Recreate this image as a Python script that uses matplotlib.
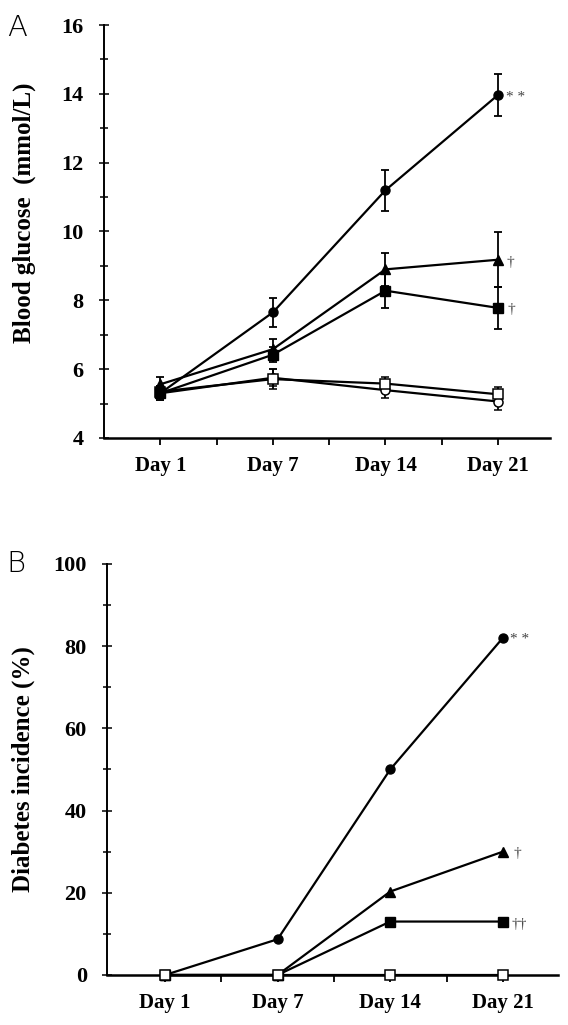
import matplotlib
matplotlib.use("Agg")
import matplotlib.pyplot as plt
from matplotlib.ticker import MultipleLocator, FixedLocator

plt.rcParams['font.family'] = ['Liberation Serif', 'DejaVu Serif']

days = [1, 2, 3, 4]
day_labels = ["Day 1", "Day 7", "Day 14", "Day 21"]

# Panel A: blood glucose (mmol/L), mean and error
glc_circle = [5.3, 7.65, 11.2, 13.97]
glc_circle_err = [0.2, 0.42, 0.6, 0.6]
glc_triangle = [5.56, 6.58, 8.9, 9.18]
glc_triangle_err = [0.2, 0.3, 0.48, 0.8]
glc_square = [5.3, 6.42, 8.28, 7.78]
glc_square_err = [0.15, 0.22, 0.5, 0.6]
glc_open_square = [5.35, 5.71, 5.58, 5.27]
glc_open_square_err = [0.15, 0.28, 0.2, 0.2]
glc_open_circle = [5.3, 5.75, 5.39, 5.06]
glc_open_circle_err = [0.2, 0.25, 0.22, 0.25]

# Panel B: diabetes incidence (%)
inc_circle = [0, 8.7, 50, 82]
inc_triangle = [0, 0, 20.3, 30]
inc_square = [0, 0, 13, 13]
inc_open_square = [0, 0, 0, 0]

fig = plt.figure(figsize=(5.68, 10.25), dpi=100)
axA = fig.add_axes([0.1831, 0.5727, 0.785, 0.4029])
axB = fig.add_axes([0.1884, 0.0488, 0.794, 0.4010])

lw = 1.6
ms = 6.5
common = dict(color='black', lw=lw, capsize=2.8, elinewidth=1.3, capthick=1.3, zorder=3)

axA.errorbar(days, glc_open_circle, yerr=glc_open_circle_err, marker='o', ms=ms,
             mfc='white', mec='black', mew=1.1, **common)
axA.errorbar(days, glc_open_square, yerr=glc_open_square_err, marker='s', ms=ms,
             mfc='white', mec='black', mew=1.1, **common)
axA.errorbar(days, glc_square, yerr=glc_square_err, marker='s', ms=ms,
             mfc='black', mec='black', **common)
axA.errorbar(days, glc_triangle, yerr=glc_triangle_err, marker='^', ms=ms + 0.5,
             mfc='black', mec='black', **common)
axA.errorbar(days, glc_circle, yerr=glc_circle_err, marker='o', ms=ms,
             mfc='black', mec='black', **common)

ann_kw = dict(textcoords='offset points', color='#444444', va='center', ha='left')
axA.annotate('* *', (days[3], glc_circle[3]), xytext=(6, -2), fontsize=11, **ann_kw)
axA.annotate('†', (days[3], glc_triangle[3]), xytext=(6, -2), fontsize=11, **ann_kw)
axA.annotate('†', (days[3], glc_square[3]), xytext=(7, -1), fontsize=11, **ann_kw)

axA.set_xlim(0.5, 4.46)
axA.set_ylim(4, 16)
axA.yaxis.set_major_locator(MultipleLocator(2))
axA.yaxis.set_minor_locator(MultipleLocator(1))
axA.set_ylabel('Blood glucose  (mmol/L)', fontsize=18, fontweight='bold')
axA.yaxis.set_label_coords(-0.152, 0.545)

axB.plot(days, inc_open_square, color='black', lw=lw, marker='s', ms=ms,
         mfc='white', mec='black', mew=1.1, zorder=5, clip_on=False)
axB.plot(days, inc_square, color='black', lw=lw, marker='s', ms=ms,
         mfc='black', mec='black', zorder=4, clip_on=False)
axB.plot(days, inc_triangle, color='black', lw=lw, marker='^', ms=ms + 0.5,
         mfc='black', mec='black', zorder=4, clip_on=False)
axB.plot(days, inc_circle, color='black', lw=lw, marker='o', ms=ms,
         mfc='black', mec='black', zorder=4, clip_on=False)
axB.annotate('* *', (days[3], inc_circle[3]), xytext=(5, -1), fontsize=11, **ann_kw)
axB.annotate('†', (days[3], inc_triangle[3]), xytext=(8, -1), fontsize=11, **ann_kw)
axB.annotate('††', (days[3], inc_square[3]), xytext=(6, -2), fontsize=11, **ann_kw)

axB.set_xlim(0.485, 4.49)
axB.set_ylim(0, 100)
axB.yaxis.set_major_locator(MultipleLocator(20))
axB.yaxis.set_minor_locator(MultipleLocator(10))
axB.set_ylabel('Diabetes incidence (%)', fontsize=18, fontweight='bold')
axB.yaxis.set_label_coords(-0.16, 0.5)

for ax in (axA, axB):
    ax.spines['top'].set_visible(False)
    ax.spines['right'].set_visible(False)
    ax.spines['left'].set_linewidth(1.4)
    ax.spines['bottom'].set_linewidth(1.8)
    ax.set_xticks(days)
    ax.set_xticklabels(day_labels, fontsize=15, fontweight='bold')
    ax.xaxis.set_minor_locator(FixedLocator([1.5, 2.5, 3.5]))
    ax.tick_params(axis='x', which='both', direction='out', length=5, width=1.3, pad=8)
    ax.tick_params(axis='y', which='major', direction='inout', length=7, width=1.1, pad=11,
                   labelsize=16)
    ax.tick_params(axis='y', which='minor', direction='inout', length=6, width=1.1)
    for lab in ax.get_yticklabels():
        lab.set_fontweight('bold')

fig.text(0.012, 0.986, 'A', fontsize=21, family='DejaVu Sans', fontweight='light', va='top', ha='left')
fig.text(0.012, 0.463, 'B', fontsize=21, family='DejaVu Sans', fontweight='light', va='top', ha='left')

fig.savefig('out.png', dpi=100)
